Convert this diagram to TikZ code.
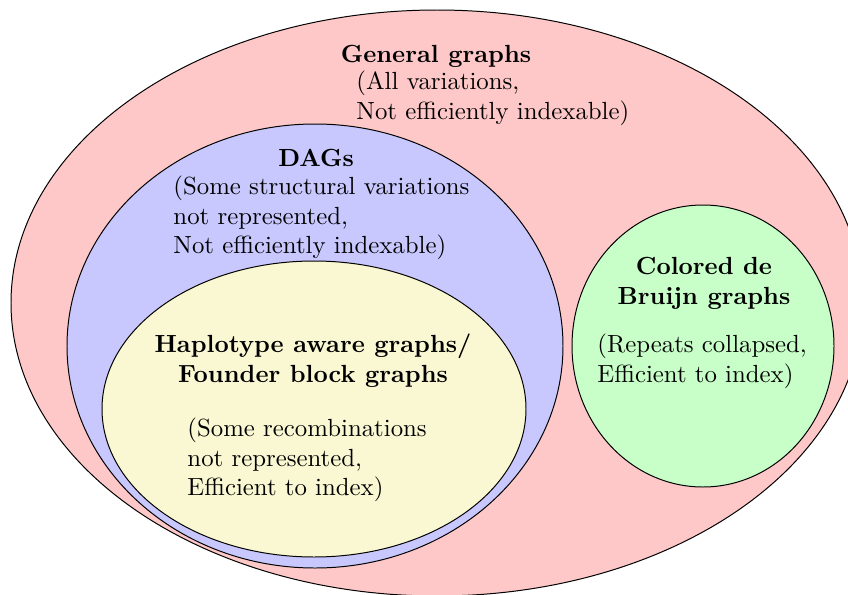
\documentclass[tikz,border=0pt]{standalone}
\usepackage{xcolor}
\usepackage{tikz}
\definecolor{GenFill}{HTML}{FFC8C8}
\definecolor{DagFill}{HTML}{C8C8FF}
\definecolor{HapFill}{HTML}{FAF8D2}
\definecolor{DbgFill}{HTML}{C8FFC8}

\begin{document}
\begin{tikzpicture}[x=0.01418cm,y=-0.01418cm,
  title/.style={font=\bfseries,align=center,inner sep=0pt},
  note/.style={align=left,anchor=west,inner sep=0pt}]
  \useasboundingbox (0,0) rectangle (848,595);
  \clip (0,0) rectangle (848,595);
  % the nested graph classes
  \filldraw[fill=GenFill] (437,303) ellipse [x radius=426,y radius=293];
  \filldraw[fill=DagFill] (315,346) ellipse [x radius=248,y radius=222];
  \filldraw[fill=HapFill] (314,409) ellipse [x radius=212,y radius=148];
  \filldraw[fill=DbgFill] (703,346) ellipse [x radius=131,y radius=141];
  % labels
  \node[title] (gentitle) at (436,56) {General graphs};
  \node[note] (gennote) at (356,98) {(All variations,\\Not efficiently indexable)};
  \node[title] (dagtitle) at (316,158) {DAGs};
  \node[note] (dagnote) at (173,218) {(Some structural variations\\not represented,\\Not efficiently indexable)};
  \node[title] (haptitle) at (313,361) {Haplotype aware graphs/\\Founder block graphs};
  \node[note] (hapnote) at (187,460) {(Some recombinations\\not represented,\\Efficient to index)};
  \node[title] (dbgtitle) at (704,283) {Colored de\\Bruijn graphs};
  \node[note] (dbgnote) at (597,361) {(Repeats collapsed,\\Efficient to index)};
\end{tikzpicture}
\end{document}
